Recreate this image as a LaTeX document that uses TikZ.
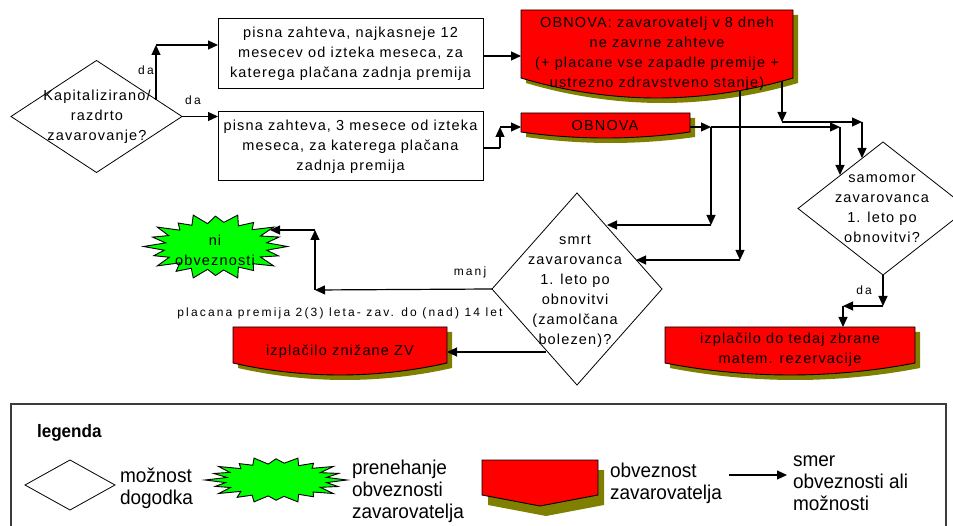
\documentclass[tikz,border=0pt]{standalone}
\usepackage{fontspec}
\setmainfont{Liberation Sans}
\newfontfamily\diagfont[LetterSpace=8]{Liberation Sans}
\newfontfamily\labfont[LetterSpace=18]{Liberation Sans}
\newfontfamily\legfont[FakeStretch=0.95]{Liberation Sans}
\usetikzlibrary{arrows.meta,shapes.geometric}

\definecolor{obvred}{RGB}{255,0,0}
\definecolor{shadeolive}{RGB}{128,128,0}
\definecolor{burstgreen}{RGB}{0,255,0}
\definecolor{legframe}{RGB}{60,60,60}

\tikzset{
  every node/.style={inner sep=0pt, outer sep=0pt},
  dtext/.style={font=\diagfont\fontsize{14.5}{20}\selectfont, align=center},
  lab/.style={font=\labfont\fontsize{12}{14}\selectfont},
  legtext/.style={font=\legfont\fontsize{20}{22}\selectfont, align=left, anchor=west},
  txtbox/.style={dtext, draw, fill=white, line width=1pt},
  dia/.style={diamond, draw, fill=white, line width=0.8pt},
  obv/.style={fill=obvred, draw=black, line width=0.9pt},
  conn/.style={line width=1.2pt},
  arr/.style={conn, -{Triangle[length=10pt,width=9pt]}},
  burst/.style={fill=burstgreen, draw=black, line width=0.9pt, line join=miter},
}

% insurer-obligation shape: flat top, vertical sides, bowed bottom
\newcommand\obvpath[5]{(#1,#3) -- (#2,#3) -- (#2,#4) parabola bend ({(#1+#2)/2},#5) (#1,#4) -- cycle}
\newcommand\obvbox[6]{%
  \begin{scope}[shift={(#6,#6)}]
    \fill[shadeolive] \obvpath{#1}{#2}{#3}{#4}{#5};
  \end{scope}
  \filldraw[obv] \obvpath{#1}{#2}{#3}{#4}{#5};
}
% irregular starburst around the origin, radii #1 and #2
\newcommand\burstpath[2]{(0:#1 and #2) \foreach \k/\f in {1/0.72,2/0.92,3/0.7,4/1.0,5/0.74,6/0.9,7/0.7,8/1.0,9/0.72,10/0.88,11/0.7,12/1.0,13/0.74,14/0.93,15/0.7,16/1.0,17/0.72,18/0.9,19/0.72,20/1.0,21/0.7,22/0.92,23/0.73,24/1.0,25/0.7,26/0.88,27/0.72,28/1.0,29/0.7,30/0.92,31/0.74,32/1.0,33/0.7,34/0.9,35/0.72,36/1.0,37/0.7,38/0.93,39/0.72} { -- ({\k*9}:{#1*\f} and {#2*\f}) } -- cycle}

\begin{document}
\begin{tikzpicture}[x=1pt,y=-1pt]
\useasboundingbox (0,0) rectangle (953,526);
\clip (0,0) rectangle (953,526);
\fill[white] (0,0) rectangle (953,526);

% ---------- decisions ----------
\node[dia, minimum width=171pt, minimum height=112pt] (d1) at (96.5,116.5) {};
\node[dtext] (d1t) at (97,117) {Kapitalizirano/\\razdrto\\zavarovanje?};
\node[dia, minimum width=170pt, minimum height=133pt] (d2) at (883,208.5) {};
\node[dtext] (d2t) at (882,209) {samomor\\zavarovanca\\1. leto po\\obnovitvi?};
\node[dia, minimum width=170pt, minimum height=192pt] (d3) at (577,289) {};
\node[dtext] (d3t) at (575,291) {smrt\\zavarovanca\\1. leto po\\obnovitvi\\(zamolčana\\bolezen)?};

% ---------- written requests ----------
\node[txtbox, minimum width=265pt, minimum height=70pt] (b1) at (350.5,54)
  {pisna zahteva, najkasneje 12\\mesecev od izteka meseca, za\\katerega plačana zadnja premija};
\node[txtbox, minimum width=265pt, minimum height=69pt] (b2) at (350.5,146.5)
  {pisna zahteva, 3 mesece od izteka\\meseca, za katerega plačana\\zadnja premija};

% ---------- insurer obligations ----------
\obvbox{521}{793}{10}{78}{98}{5}
\node[dtext] (r1) at (657,54) {OBNOVA: zavarovatelj v 8 dneh\\ne zavrne zahteve\\(+ placane vse zapadle premije +\\ustrezno zdravstveno stanje)};
\obvbox{521}{690}{113}{132}{138}{5}
\node[dtext] (r2) at (605,126) {OBNOVA};
\obvbox{233}{447}{327}{363}{375}{5}
\node[dtext] (r3) at (340,352) {izplačilo znižane ZV};
\obvbox{665}{915}{327}{363}{375}{5}
\node[dtext] (r4) at (790,350) {izplačilo do tedaj zbrane\\matem. rezervacije};

% ---------- end of obligation ----------
\begin{scope}[shift={(215.5,246.5)}]
  \filldraw[burst] \burstpath{72}{33};
\end{scope}
\node[dtext] (s1) at (215,250) {ni\\obveznosti};

% ---------- connectors ----------
\coordinate (k1a) at (156,100);
\coordinate (k1b) at (156,45);
\draw[arr] (k1a) -- (k1b);
\draw[arr] (k1b) -- (b1.west |- k1b);
\draw[arr] (d1.east) -- (b2.west |- d1.east);

\coordinate (r1w) at (521,56);
\draw[arr] (b1.east |- r1w) -- (r1w);
\coordinate (k4a) at (500,148);
\coordinate (k4b) at (500,127);
\coordinate (r2w) at (521,127);
\draw[conn] (b2.east |- k4a) -- (k4a);
\draw[arr] (k4a) -- (k4b);
\draw[arr] (k4b) -- (r2w);

\coordinate (r1s) at (782,81);
\coordinate (k5a) at (782,122);
\coordinate (k5b) at (862,122);
\coordinate (d2a) at (862,158);
\draw[arr] (r1s) -- (k5a);
\draw[arr] (k5a) -- (k5b);
\draw[arr] (k5b) -- (d2a);

\coordinate (r2e) at (690,127);
\coordinate (k6a) at (711,127);
\coordinate (k6b) at (840,127);
\coordinate (d2b) at (840,175);
\draw[arr] (r2e) -- (k6a);
\draw[arr] (k6a) -- (k6b);
\draw[arr] (k6b) -- (d2b);
\coordinate (k7) at (711,225);
\coordinate (d3a) at (607,225);
\draw[arr] (k6a) -- (k7);
\draw[arr] (k7) -- (d3a);

\coordinate (r1b) at (740,91);
\coordinate (k8) at (740,260);
\coordinate (d3b) at (636,260);
\draw[arr] (r1b) -- (k8);
\draw[arr] (k8) -- (d3b);

\coordinate (k9a) at (315,290);
\coordinate (k9b) at (315,230);
\coordinate (s1e) at (270,230);
\draw[arr] (d3.west) -- (k9a);
\draw[arr] (k9a) -- (k9b);
\draw[arr] (k9b) -- (s1e);
\coordinate (d3c) at (546,352);
\coordinate (r3e) at (447,352);
\draw[arr] (d3c) -- (r3e);

\coordinate (k11a) at (883,306);
\coordinate (k11b) at (843,306);
\coordinate (r4n) at (843,327);
\draw[arr] (d2.south) -- (k11a);
\draw[arr] (k11a) -- (k11b);
\draw[arr] (k11b) -- (r4n);

% ---------- connector labels ----------
\node[lab] (l1) at (146,70) {da};
\node[lab] (l2) at (193,100) {da};
\node[lab] (l3) at (470,272) {manj};
\node[lab] (l4) at (340,313) {placana premija 2(3) leta- zav. do (nad) 14 let};
\node[lab] (l5) at (864,290) {da};

% ---------- legend ----------
\draw[line width=1.3pt, draw=legframe] (11,404) rectangle (946,540);
\node[font=\legfont\bfseries\fontsize{18}{20}\selectfont, anchor=west] (lg) at (37,433) {legenda};
\node[dia, minimum width=90pt, minimum height=50pt] (ld) at (70,485) {};
\node[legtext] (ldt) at (120,488) {možnost\\dogodka};
\begin{scope}[shift={(276,480)}]
  \filldraw[burst] \burstpath{71}{23};
\end{scope}
\node[legtext] (lst) at (352,491) {prenehanje\\obveznosti\\zavarovatelja};
\fill[shadeolive] (488,470) -- (604,470) -- (604,505) -- (546,516) -- (488,505) -- cycle;
\filldraw[obv] (482,460) -- (598,460) -- (598,495) -- (540,506) -- (482,495) -- cycle;
\node[legtext] (lrt) at (610,483) {obveznost\\zavarovatelja};
\coordinate (la1) at (729,475);
\coordinate (la2) at (787,475);
\draw[arr] (la1) -- (la2);
\node[legtext] (lat) at (793,483) {smer\\obveznosti ali\\možnosti};
\end{tikzpicture}
\end{document}
